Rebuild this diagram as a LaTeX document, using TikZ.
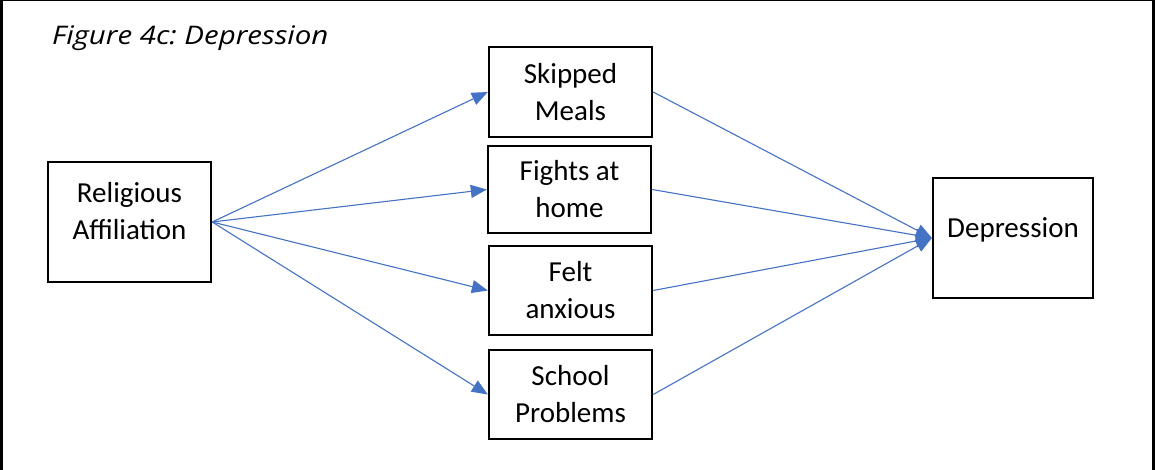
\documentclass[tikz,border=0pt]{standalone}
\usepackage{fontspec}
\setmainfont{Carlito}
\newfontfamily\titlefont[FakeStretch=1.15]{Open Sans}
\usetikzlibrary{arrows.meta}
\definecolor{linkblue}{HTML}{4472C4}
\frenchspacing
\begin{document}
\begin{tikzpicture}[x=1pt,y=-1pt,
  box/.style={draw=black, line width=2.4pt, align=center, inner sep=0pt,
    font=\fontsize{29pt}{37pt}\selectfont},
  mid/.style={box, minimum width=163pt},
  link/.style={draw=linkblue, line width=1.1pt,
    -{Triangle[length=16pt,width=13pt]}}]
  \useasboundingbox (0,0) rectangle (1155,470);
  % open frame: left, top and right edges
  \draw[line width=2.7pt] (1.3,470) -- (1.3,0) -- (1153.7,0) -- (1153.7,470);

  \node[anchor=base west, inner sep=0pt,
        font=\fontsize{25.6pt}{32pt}\selectfont\titlefont\itshape]
    (title) at (52,44.5) {Figure 4c: Depression};

  \node[draw=black, line width=2.4pt, inner sep=0pt, minimum width=163pt,
        minimum height=120pt, text height=40pt, text depth=44pt,
        font=\fontsize{29pt}{37pt}\selectfont]
    (rel) at (129.5,222) {\begin{tabular}{@{}c@{}}Religious\\Affiliation\end{tabular}};
  \node[mid, minimum height=90pt] (skip) at (570.5,92) {Skipped\\Meals};
  \node[mid, minimum height=87pt] (fight) at (569.5,189.5) {Fights at\\home};
  \node[mid, minimum height=89pt] (felt) at (570.5,290.5) {Felt\\anxious};
  \node[mid, minimum height=89pt] (school) at (570.5,394.5) {School\\Problems};
  \node[box, minimum width=160pt, minimum height=120pt,
        text height=20pt, text depth=22pt] (dep) at (1013,238) {Depression};

  \foreach \m in {skip,fight,felt,school}{
    \draw[link] (rel.east) -- (\m.west);
    \draw[link] (\m.east) -- (dep.west);
  }
\end{tikzpicture}
\end{document}
